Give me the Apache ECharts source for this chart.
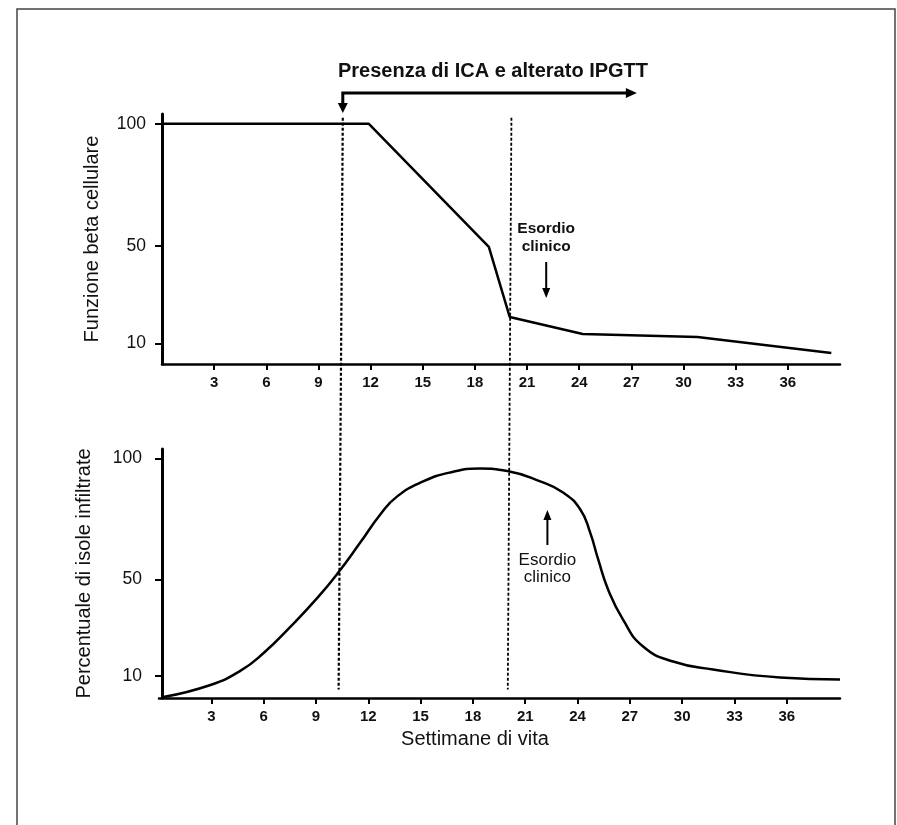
<!DOCTYPE html>
<html><head><meta charset="utf-8">
<script src="https://cdn.jsdelivr.net/npm/echarts@6/dist/echarts.min.js"></script>
<style>html,body{margin:0;padding:0;background:#fff}#c{width:897px;height:825px}</style>
</head><body><div id="c"></div>
<script>
// ---- data ----
const xTicks = [3, 6, 9, 12, 15, 18, 21, 24, 27, 30, 33, 36];
const yTicks = [10, 50, 100];
const betaWeeks  = [0, 11.9, 18.8, 20.0, 24.2, 30.8, 38.5];
const betaValues = [100, 100, 49.5, 20.8, 13.8, 12.6, 6.0];
const infWeeks  = [0.25, 2.95, 4.66, 6.0, 7.53, 9.08, 10.28, 11.54, 12.69, 13.66, 15.15, 16.7, 18.42, 19.97, 21.86, 23.17, 24.15, 24.72, 25.18, 25.75, 26.6, 27.76, 29.48, 31.77, 35.61, 39.05];
const infValues = [1.4, 6.4, 12.2, 19.6, 30.4, 42.4, 52.9, 65.3, 76.9, 84.4, 90.6, 94.3, 95.9, 94.9, 90.6, 86.0, 79.1, 69.5, 58.4, 45.9, 33.5, 22.3, 16.1, 12.8, 9.5, 8.7];
const markerWeeksTop = [10.4, 20.1];
const markerWeeksBottom = [10.3, 20.0];
const icaWeeks = [10.4, 27.2];
const onsetWeekTop = 22.1;
const onsetWeekBottom = 22.1;
const titleText = 'Presenza di ICA e alterato IPGTT';
const onsetText = 'Esordio\nclinico';
const yNameTop = 'Funzione beta cellulare';
const yNameBottom = 'Percentuale di isole infiltrate';
const xName = 'Settimane di vita';

const FONT = "'Liberation Sans', Arial, sans-serif";
const chart = echarts.init(document.getElementById('c'), null, {renderer: 'canvas'});

function xAxisCfg(gi, max) {
  return {
    type: 'value', gridIndex: gi, min: 0, max: max,
    axisLine: {show: true, onZero: false, lineStyle: {color: '#000', width: 2.5}},
    axisTick: {show: true, customValues: xTicks, length: 6, lineStyle: {color: '#000', width: 2}},
    axisLabel: {customValues: xTicks, margin: 11, fontSize: 15, fontWeight: 'bold', color: '#111', fontFamily: FONT},
    splitLine: {show: false}
  };
}
function yAxisCfg(gi, min, name, gap, offset, lblMargin) {
  return {
    type: 'value', gridIndex: gi, min: min, max: 104, offset: offset,
    name: name, nameLocation: 'middle', nameGap: gap,
    nameTextStyle: {fontSize: 20, color: '#111', fontFamily: FONT},
    axisLine: {show: true, onZero: false, lineStyle: {color: '#000', width: 3}},
    axisTick: {show: true, customValues: yTicks, length: 7, lineStyle: {color: '#000', width: 2}},
    axisLabel: {customValues: yTicks, margin: lblMargin, fontSize: 17.5, color: '#111', fontFamily: FONT},
    splitLine: {show: false}
  };
}

chart.setOption({
  animation: false,
  backgroundColor: '#fff',
  grid: [
    {left: 162, right: 57, top: 114, height: 250},
    {left: 159, right: 57, top: 449, height: 249}
  ],
  xAxis: [xAxisCfg(0, 39), xAxisCfg(1, 39.05)],
  yAxis: [yAxisCfg(0, 1.5, yNameTop, 60, 0, 16), yAxisCfg(1, 1, yNameBottom, 68, -3, 20)],
  series: [
    {type: 'line', xAxisIndex: 0, yAxisIndex: 0, showSymbol: false, symbol: 'none',
     data: betaWeeks.map((w, i) => [w, betaValues[i]]),
     lineStyle: {color: '#000', width: 2.5}},
    {type: 'line', xAxisIndex: 1, yAxisIndex: 1, showSymbol: false, symbol: 'none', smooth: 0.5,
     data: infWeeks.map((w, i) => [w, infValues[i]]),
     lineStyle: {color: '#000', width: 2.5}}
  ]
});

const g = [];
// outer frame
g.push({type: 'rect', shape: {x: 17, y: 9, width: 878, height: 830}, style: {fill: 'none', stroke: '#444', lineWidth: 1.5}, silent: true});
// dotted vertical lines spanning both panels
markerWeeksTop.forEach((w, i) => {
  const p1 = chart.convertToPixel({gridIndex: 0}, [w, 102.5]);
  const p2 = chart.convertToPixel({gridIndex: 1}, [markerWeeksBottom[i], 4.5]);
  g.push({type: 'polyline', shape: {points: [p1, p2]}, style: {stroke: '#000', lineWidth: i === 0 ? 2.2 : 1.8, lineDash: [3, 2], fill: null}, silent: true});
});
// ICA bracket arrow
const ax1 = chart.convertToPixel({gridIndex: 0}, [icaWeeks[0], 100])[0];
const ax2 = chart.convertToPixel({gridIndex: 0}, [icaWeeks[1], 100])[0];
g.push({type: 'polyline', shape: {points: [[ax1, 106], [ax1, 93], [ax2 - 6, 93]]}, style: {stroke: '#000', lineWidth: 3, fill: null}, silent: true});
g.push({type: 'polygon', shape: {points: [[ax2 - 9, 88], [ax2 + 2, 93], [ax2 - 9, 98]]}, style: {fill: '#000'}, silent: true});
g.push({type: 'polygon', shape: {points: [[ax1 - 5, 103], [ax1 + 5, 103], [ax1, 113]]}, style: {fill: '#000'}, silent: true});
g.push({type: 'text', x: 493, y: 71, style: {text: titleText, fontSize: 20, fontWeight: 'bold', fill: '#111', fontFamily: FONT, align: 'center', verticalAlign: 'middle'}, silent: true});
// onset annotation top
const ox1 = chart.convertToPixel({gridIndex: 0}, [onsetWeekTop, 50])[0];
g.push({type: 'text', x: ox1, y: 238, style: {text: onsetText, fontSize: 15.5, fontWeight: 'bold', fill: '#111', fontFamily: FONT, align: 'center', verticalAlign: 'middle', lineHeight: 18}, silent: true});
g.push({type: 'polyline', shape: {points: [[ox1, 262], [ox1, 290]]}, style: {stroke: '#000', lineWidth: 2, fill: null}, silent: true});
g.push({type: 'polygon', shape: {points: [[ox1 - 4, 288], [ox1 + 4, 288], [ox1, 298]]}, style: {fill: '#000'}, silent: true});
// onset annotation bottom
const ox2 = chart.convertToPixel({gridIndex: 1}, [onsetWeekBottom, 50])[0] + 3;
g.push({type: 'polyline', shape: {points: [[ox2, 518], [ox2, 545]]}, style: {stroke: '#000', lineWidth: 2, fill: null}, silent: true});
g.push({type: 'polygon', shape: {points: [[ox2 - 4, 520], [ox2 + 4, 520], [ox2, 510]]}, style: {fill: '#000'}, silent: true});
g.push({type: 'text', x: ox2, y: 569, style: {text: onsetText, fontSize: 17, fill: '#111', fontFamily: FONT, align: 'center', verticalAlign: 'middle', lineHeight: 17}, silent: true});
// x axis name (bottom panel)
g.push({type: 'text', x: 475, y: 739, style: {text: xName, fontSize: 20, fill: '#111', fontFamily: FONT, align: 'center', verticalAlign: 'middle'}, silent: true});

chart.setOption({graphic: g});
</script>
</body></html>
